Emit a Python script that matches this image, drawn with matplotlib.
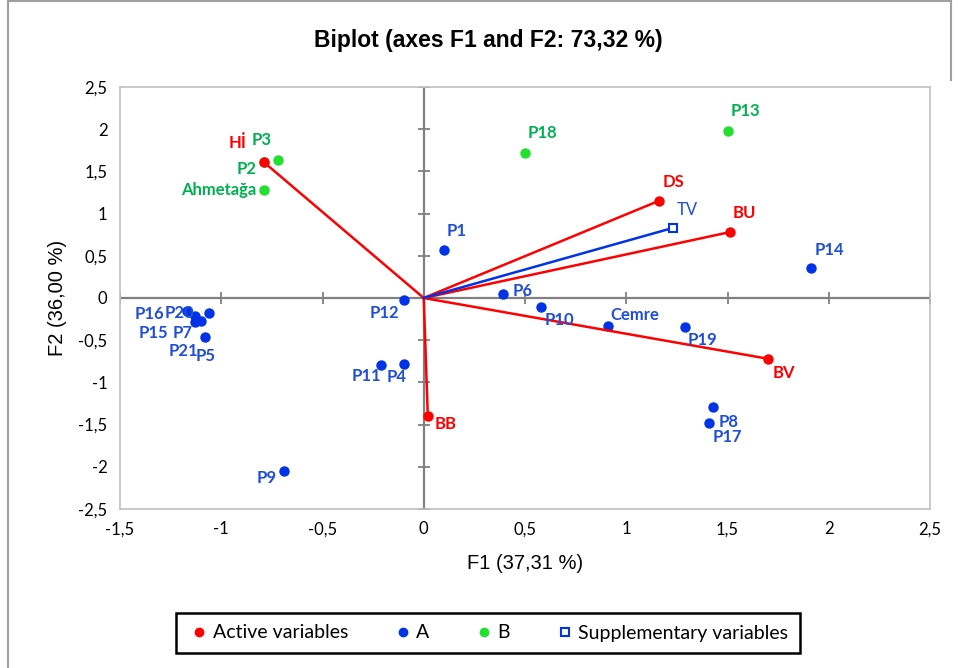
import matplotlib
matplotlib.use("Agg")
import matplotlib.pyplot as plt
from matplotlib.lines import Line2D
import numpy as np

# active variables (vectors)
act_names = ["Hİ", "DS", "BU", "BV", "BB"]
act_x = [-0.79, 1.16, 1.51, 1.70, 0.02]
act_y = [1.61, 1.15, 0.78, -0.72, -1.40]

# supplementary variable
sup_names = ["TV"]
sup_x = [1.23]
sup_y = [0.83]

# observations, group A
a_names = ["P1", "P6", "P10", "Cemre", "P19", "P14", "P8", "P17", "P12", "P11", "P4", "P9",
           "P16", "P20", "P15", "P7", "P21", "P5"]
a_x = [0.10, 0.39, 0.58, 0.91, 1.29, 1.91, 1.43, 1.41, -0.10, -0.21, -0.10, -0.69,
       -1.17, -1.06, -1.13, -1.10, -1.13, -1.08]
a_y = [0.57, 0.05, -0.11, -0.33, -0.34, 0.36, -1.29, -1.48, -0.02, -0.79, -0.78, -2.05,
       -0.15, -0.18, -0.28, -0.27, -0.21, -0.46]

# observations, group B
b_names = ["P2", "P3", "Ahmetağa", "P18", "P13"]
b_x = [-0.79, -0.72, -0.79, 0.50, 1.50]
b_y = [1.61, 1.63, 1.28, 1.72, 1.98]

# label offsets in pixels (dx, dy up)
offs = {
    "Hİ": (-26, 19), "DS": (15, 19), "BU": (15, 19), "BV": (16, -14), "BB": (18, -8),
    "TV": (14, 18),
    "P1": (13, 19), "P6": (20, 3), "P10": (18, -13), "Cemre": (27, 11), "P19": (18, -13),
    "P14": (19, 18), "P8": (15, -15), "P17": (18, -14), "P12": (-19, -13), "P11": (-15, -11),
    "P4": (-7, -13), "P9": (-17, -7), "P16": (-37, -3), "P20": (-30, 0), "P15": (-41, -11),
    "P7": (-18, -12), "P21": (-11, -35), "P5": (1, -19),
    "P2": (-17, -7), "P3": (-16, 20), "Ahmetağa": (-45, 0), "P18": (17, 20), "P13": (18, 20),
}

red = "#FF0000"
blue = "#0033E6"
blue_txt = "#1F4ED8"
green = "#22E02E"
green_txt = "#00B050"
lab_font = "Lato"

fig = plt.figure(figsize=(9.58, 6.68), dpi=100)
ax = fig.add_axes([120 / 958, 1 - 509 / 668, 810 / 958, 422 / 668])

ax.set_xlim(-1.5, 2.5)
ax.set_ylim(-2.5, 2.5)

# zero lines with cross ticks
ax.axhline(0, color="#808080", lw=1.6, zorder=1)
ax.axvline(0, color="#808080", lw=1.6, zorder=1)
xt = np.arange(-1.5, 2.51, 0.5)
yt = np.arange(-2.5, 2.51, 0.5)
ax.plot(xt, np.zeros_like(xt), ls="none", marker="|", ms=8, mew=1.3, color="#808080", zorder=1)
ax.plot(np.zeros_like(yt), yt, ls="none", marker="_", ms=8, mew=1.3, color="#808080", zorder=1)

for s in ax.spines.values():
    s.set_color("#C0C0C0")
    s.set_linewidth(1.2)
ax.set_xticks(xt)
ax.set_yticks(yt)
ax.tick_params(length=0, labelsize=12, pad=9)
ax.set_xticklabels([("%g" % v).replace(".", ",") for v in xt], fontfamily="Lato")
ax.set_yticklabels([("%g" % v).replace(".", ",") for v in yt], fontfamily="Lato")
ax.set_xlabel("F1 (37,31 %)", fontsize=14.5, fontfamily="Liberation Sans", labelpad=12)
ax.set_ylabel("F2 (36,00 %)", fontsize=14.5, fontfamily="Liberation Sans", labelpad=8)
fig.suptitle("Biplot (axes F1 and F2: 73,32 %)", x=488 / 958, y=1 - 41 / 668, va="center",
             fontsize=16.5, fontweight="bold", fontfamily="Liberation Sans")


def label(name, x, y, color):
    dx, dy = offs[name]
    ax.annotate(name, (x, y), xytext=(dx, dy), textcoords="offset pixels", ha="center",
                va="center", color=color, fontsize=12, fontweight="bold",
                fontfamily=lab_font, zorder=6)


# group points
ax.plot(a_x, a_y, ls="none", marker="o", ms=6.5, color=blue, zorder=3)
ax.plot(b_x, b_y, ls="none", marker="o", ms=6.5, color=green, zorder=3)

# vectors
for n, x, y in zip(act_names, act_x, act_y):
    ax.plot([0, x], [0, y], color=red, lw=1.8, zorder=4)
    label(n, x, y, red)
ax.plot(act_x, act_y, ls="none", marker="o", ms=6.5, color=red, zorder=5)
for n, x, y in zip(sup_names, sup_x, sup_y):
    ax.plot([0, x], [0, y], color=blue, lw=1.8, zorder=4)
    ax.annotate(n, (x, y), xytext=offs[n], textcoords="offset pixels", ha="center",
                va="center", color=blue_txt, fontsize=12, fontfamily=lab_font, zorder=6)
ax.plot(sup_x, sup_y, ls="none", marker="s", ms=6, mfc="white", mec=blue, mew=1.5, zorder=5)

for n, x, y in zip(a_names, a_x, a_y):
    label(n, x, y, blue_txt)
for n, x, y in zip(b_names, b_x, b_y):
    label(n, x, y, green_txt)

handles = [
    Line2D([], [], ls="none", marker="o", ms=6, color=red),
    Line2D([], [], ls="none", marker="o", ms=6, color=blue),
    Line2D([], [], ls="none", marker="o", ms=6, color=green),
    Line2D([], [], ls="none", marker="s", ms=5.5, mfc="white", mec=blue, mew=1.5),
]
leg = fig.legend(handles, ["Active variables", "A", "B", "Supplementary variables"], ncol=4,
                 loc="center", bbox_to_anchor=(488 / 958, 1 - 633 / 668), frameon=True,
                 fancybox=False, edgecolor="black", framealpha=1, handletextpad=0.1,
                 columnspacing=2.2, handlelength=1.2, borderpad=0.6,
                 prop={"family": "Lato", "size": 14})
leg.get_frame().set_linewidth(1.8)

# outer border of the chart
fig.add_artist(Line2D([8 / 958, 8 / 958], [0, 0.998], color="#A0A0A0", lw=1.5))
fig.add_artist(Line2D([8 / 958, 951 / 958], [0.998, 0.998], color="#A0A0A0", lw=1.5))
fig.add_artist(Line2D([951 / 958, 951 / 958], [0.88, 0.998], color="#A0A0A0", lw=1.5))

fig.savefig("out.png", dpi=100, facecolor="white")
